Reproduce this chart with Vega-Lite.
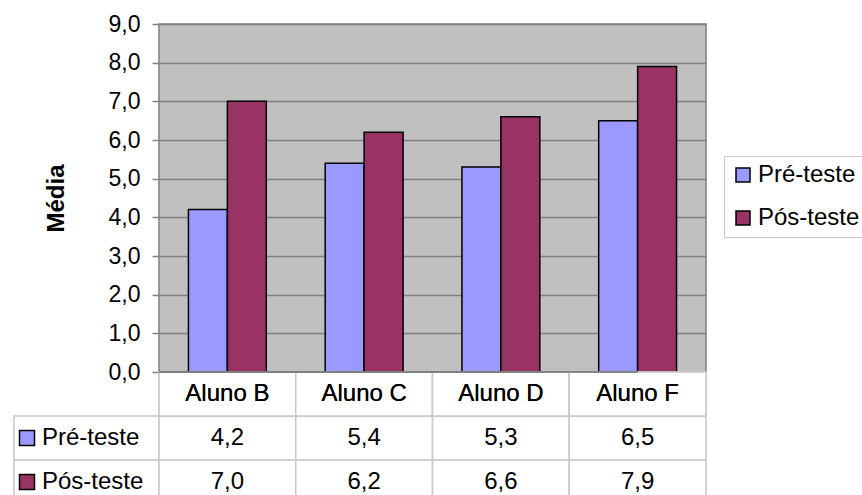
{
  "$schema": "https://vega.github.io/schema/vega-lite/v6.json",
  "background": "white",
  "padding": {"left": 13, "top": 12, "right": 0, "bottom": 0},
  "autosize": {"type": "pad"},
  "config": {
    "locale": {"number": {"decimal": ",", "thousands": ".", "grouping": [3], "currency": ["R$ ", ""]}},
    "font": "Liberation Sans",
    "view": {"stroke": null},
    "legend": {
      "orient": "none",
      "legendX": 710,
      "legendY": 132,
      "title": null,
      "symbolType": "square",
      "symbolSize": 196,
      "symbolStrokeColor": "black",
      "symbolStrokeWidth": 1.5,
      "labelFont": "Liberation Sans",
      "labelFontSize": 24,
      "labelColor": "black",
      "labelOffset": 3,
      "rowPadding": 19,
      "padding": 7,
      "strokeColor": "#c8c8c8",
      "fillColor": "white",
      "labelLimit": 300
    }
  },
  "datasets": {
    "medias": [
      {"aluno": "Aluno B", "teste": "Pré-teste", "media": 4.2},
      {"aluno": "Aluno B", "teste": "Pós-teste", "media": 7.0},
      {"aluno": "Aluno C", "teste": "Pré-teste", "media": 5.4},
      {"aluno": "Aluno C", "teste": "Pós-teste", "media": 6.2},
      {"aluno": "Aluno D", "teste": "Pré-teste", "media": 5.3},
      {"aluno": "Aluno D", "teste": "Pós-teste", "media": 6.6},
      {"aluno": "Aluno F", "teste": "Pré-teste", "media": 6.5},
      {"aluno": "Aluno F", "teste": "Pós-teste", "media": 7.9}
    ],
    "series": [
      {"teste": "Pré-teste"},
      {"teste": "Pós-teste"}
    ]
  },
  "columns": 2,
  "spacing": 0,
  "bounds": "flush",
  "align": "each",
  "concat": [
    {
      "width": 145,
      "height": 348,
      "data": {"values": [{}]},
      "mark": {"type": "text", "text": ""}
    },
    {
      "width": 547,
      "height": 348,
      "view": {"fill": "#c0c0c0", "stroke": "#808080", "strokeWidth": 1.5},
      "data": {"name": "medias"},
      "mark": {"type": "bar", "stroke": "black", "strokeWidth": 1.5},
      "encoding": {
        "x": {
          "field": "aluno", "type": "nominal", "sort": null,
          "scale": {"paddingInner": 0, "paddingOuter": 0},
          "axis": null
        },
        "xOffset": {
          "field": "teste", "type": "nominal", "sort": ["Pré-teste", "Pós-teste"],
          "scale": {"paddingInner": 0, "paddingOuter": 0.756}
        },
        "y": {
          "field": "media", "type": "quantitative",
          "scale": {"domain": [0, 9]},
          "title": "Média",
          "axis": {
            "values": [0, 1, 2, 3, 4, 5, 6, 7, 8, 9],
            "format": ".1f",
            "labelFontSize": 23,
            "labelColor": "black",
            "labelPadding": 12,
            "tickColor": "#808080",
            "tickSize": 7,
            "tickWidth": 1.5,
            "domain": false,
            "grid": true,
            "gridColor": "#808080",
            "gridWidth": 1.5,
            "titleFontSize": 24,
            "titleFontWeight": "bold",
            "titleColor": "black",
            "titlePadding": 40
          }
        },
        "color": {
          "field": "teste", "type": "nominal",
          "sort": ["Pré-teste", "Pós-teste"],
          "scale": {"domain": ["Pré-teste", "Pós-teste"], "range": ["#9999ff", "#993366"]}
        }
      }
    },
    {
      "width": 145,
      "height": 132,
      "data": {"name": "series"},
      "encoding": {
        "y": {
          "field": "teste", "type": "nominal",
          "scale": {"domain": ["Aluno", "Pré-teste", "Pós-teste"], "padding": 0},
          "axis": null
        }
      },
      "layer": [
        {
          "mark": {"type": "rect", "fill": "white", "stroke": "#c8c8c8", "strokeWidth": 1.5}
        },
        {
          "mark": {"type": "point", "shape": "square", "filled": true, "size": 225, "stroke": "black", "strokeWidth": 1.5, "opacity": 1, "x": 13},
          "encoding": {
            "color": {
              "field": "teste", "type": "nominal",
              "sort": ["Pré-teste", "Pós-teste"],
              "scale": {"domain": ["Pré-teste", "Pós-teste"], "range": ["#9999ff", "#993366"]}
            }
          }
        },
        {
          "mark": {"type": "text", "align": "left", "x": 28, "fontSize": 24, "color": "black"},
          "encoding": {"text": {"field": "teste"}}
        }
      ]
    },
    {
      "width": 547,
      "height": 132,
      "data": {"name": "medias"},
      "encoding": {
        "x": {
          "field": "aluno", "type": "nominal", "sort": null,
          "scale": {"paddingInner": 0, "paddingOuter": 0},
          "axis": null
        }
      },
      "layer": [
        {
          "mark": {"type": "rect", "fill": "white", "stroke": "#c8c8c8", "strokeWidth": 1.5},
          "encoding": {
            "y": {
              "field": "teste", "type": "nominal",
              "scale": {"domain": ["Aluno", "Pré-teste", "Pós-teste"], "padding": 0},
              "axis": null
            }
          }
        },
        {
          "mark": {"type": "rect", "fill": "white", "stroke": "#c8c8c8", "strokeWidth": 1.5},
          "encoding": {"y": {"datum": "Aluno", "type": "nominal"}}
        },
        {
          "mark": {"type": "text", "fontSize": 24, "color": "black"},
          "encoding": {
            "y": {"field": "teste", "type": "nominal"},
            "text": {"field": "media", "type": "quantitative", "format": ".1f"}
          }
        },
        {
          "mark": {"type": "text", "fontSize": 24, "color": "black"},
          "encoding": {
            "y": {"datum": "Aluno", "type": "nominal"},
            "text": {"field": "aluno"}
          }
        },
        {
          "mark": {"type": "rule", "color": "#808080", "strokeWidth": 1.5},
          "encoding": {"y": {"datum": "Aluno", "type": "nominal", "bandPosition": 0}}
        }
      ]
    }
  ]
}
